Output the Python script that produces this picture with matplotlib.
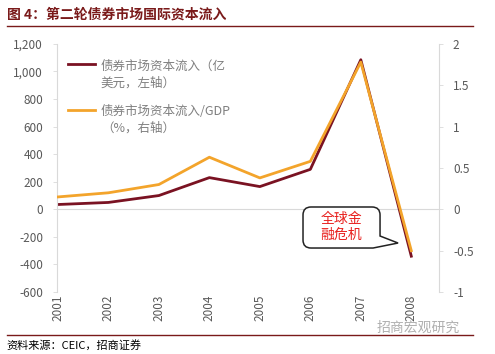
import matplotlib.pyplot as plt
from matplotlib.lines import Line2D
from matplotlib.path import Path
from matplotlib.patches import PathPatch

plt.rcParams['font.family'] = ['Noto Sans CJK SC', 'DejaVu Sans']

years = ['2001', '2002', '2003', '2004', '2005', '2006', '2007', '2008']
inflow = [35, 50, 100, 230, 165, 290, 1085, -340]          # 亿美元, left axis
inflow_gdp = [0.15, 0.2, 0.3, 0.63, 0.38, 0.58, 1.78, -0.5]  # %, right axis

DARK_RED = '#7a1222'
ORANGE = '#f3a42b'
GRAY = '#595959'
AXIS_GRAY = '#d9d9d9'

fig = plt.figure(figsize=(4.95, 3.54), dpi=100)
ax = fig.add_axes([0.115, 0.175, 0.772, 0.701])
ax2 = ax.twinx()

x = list(range(len(years)))
ax.plot(x, inflow, color=DARK_RED, lw=2)
ax2.plot(x, inflow_gdp, color=ORANGE, lw=2)

ax.set_xlim(-0.02, 7.55)
ax.set_ylim(-600, 1200)
ax.set_yticks(range(-600, 1201, 200))
ax.set_yticklabels([f'{v:,}' for v in range(-600, 1201, 200)])
ax2.set_ylim(-1, 2)
ax2.set_yticks([-1, -0.5, 0, 0.5, 1, 1.5, 2])
ax2.set_yticklabels(['-1', '-0.5', '0', '0.5', '1', '1.5', '2'])
ax.set_xticks(x)
ax.set_xticklabels(years, rotation=90)
ax.axhline(0, color=AXIS_GRAY, lw=0.8, zorder=0)

for a in (ax, ax2):
    for side in ('top', 'bottom'):
        a.spines[side].set_visible(False)
    a.spines['left'].set_color(AXIS_GRAY)
    a.spines['right'].set_color(AXIS_GRAY)
    a.tick_params(colors=GRAY, labelsize=8.5, length=3, width=0.6)
    a.tick_params(axis='y', color=AXIS_GRAY, pad=7)
ax.spines['right'].set_visible(False)
ax2.spines['left'].set_visible(False)
ax.tick_params(axis='x', length=0, pad=2)

# legend drawn by hand to keep two-line labels
lx0, lx1 = 0.03, 0.10
ax.add_line(Line2D([lx0, lx1], [0.917, 0.917], transform=ax.transAxes, color=DARK_RED, lw=2))
ax.text(lx1 + 0.015, 0.935, '债券市场资本流入（亿\n美元，左轴）', transform=ax.transAxes,
        va='top', ha='left', fontsize=9, color='#7f7f7f', linespacing=1.35)
ax.add_line(Line2D([lx0, lx1], [0.733, 0.733], transform=ax.transAxes, color=ORANGE, lw=2))
ax.text(lx1 + 0.015, 0.752, '债券市场资本流入/GDP\n（%，右轴）', transform=ax.transAxes,
        va='top', ha='left', fontsize=9, color='#7f7f7f', linespacing=1.35)

# callout: rounded box with a tail, outlined in axes pixel-like units
def ax_xy(px, py):
    return ((px - 57) / 382, (292 - py) / 248)

r = 8
L, R, T, B = 303, 380, 207, 248
pts = [
    ((L + r, T), Path.MOVETO), ((R - r, T), Path.LINETO),
    ((R, T), Path.CURVE3), ((R, T + r), Path.CURVE3),
    ((R, 236), Path.LINETO), ((398, 243), Path.LINETO), ((373, B), Path.LINETO),
    ((L + r, B), Path.LINETO),
    ((L, B), Path.CURVE3), ((L, B - r), Path.CURVE3),
    ((L, T + r), Path.LINETO),
    ((L, T), Path.CURVE3), ((L + r, T), Path.CURVE3),
    ((L + r, T), Path.CLOSEPOLY),
]
callout = Path([ax_xy(*p) for p, _ in pts], [c for _, c in pts])
ax.add_patch(PathPatch(callout, transform=ax.transAxes, fc='white', ec='#222222', lw=1.1,
                       zorder=5, clip_on=False))
tx, ty = ax_xy(341, 227)
ax.text(tx, ty, '全球金\n融危机', transform=ax.transAxes, ha='center', va='center',
        fontsize=10, color='#e8201e', linespacing=1.15, zorder=6)

# title and rules
fig.text(0.014, 0.96, '图 4：第二轮债券市场国际资本流入', fontsize=10, fontweight='bold',
         color='#7a1a1a', va='center', ha='left')
fig.add_artist(Line2D([0.014, 0.955], [0.927, 0.927], color='#7a1a1a', lw=1))
fig.add_artist(Line2D([0.014, 0.955], [0.053, 0.053], color='#7a1a1a', lw=1))
fig.text(0.014, 0.025, '资料来源：CEIC，招商证券', fontsize=8, color='black', va='center', ha='left')
fig.text(0.93, 0.075, '招商宏观研究', fontsize=10, color='#b0b0b0', va='center', ha='right')

fig.savefig('out.png', dpi=100)
